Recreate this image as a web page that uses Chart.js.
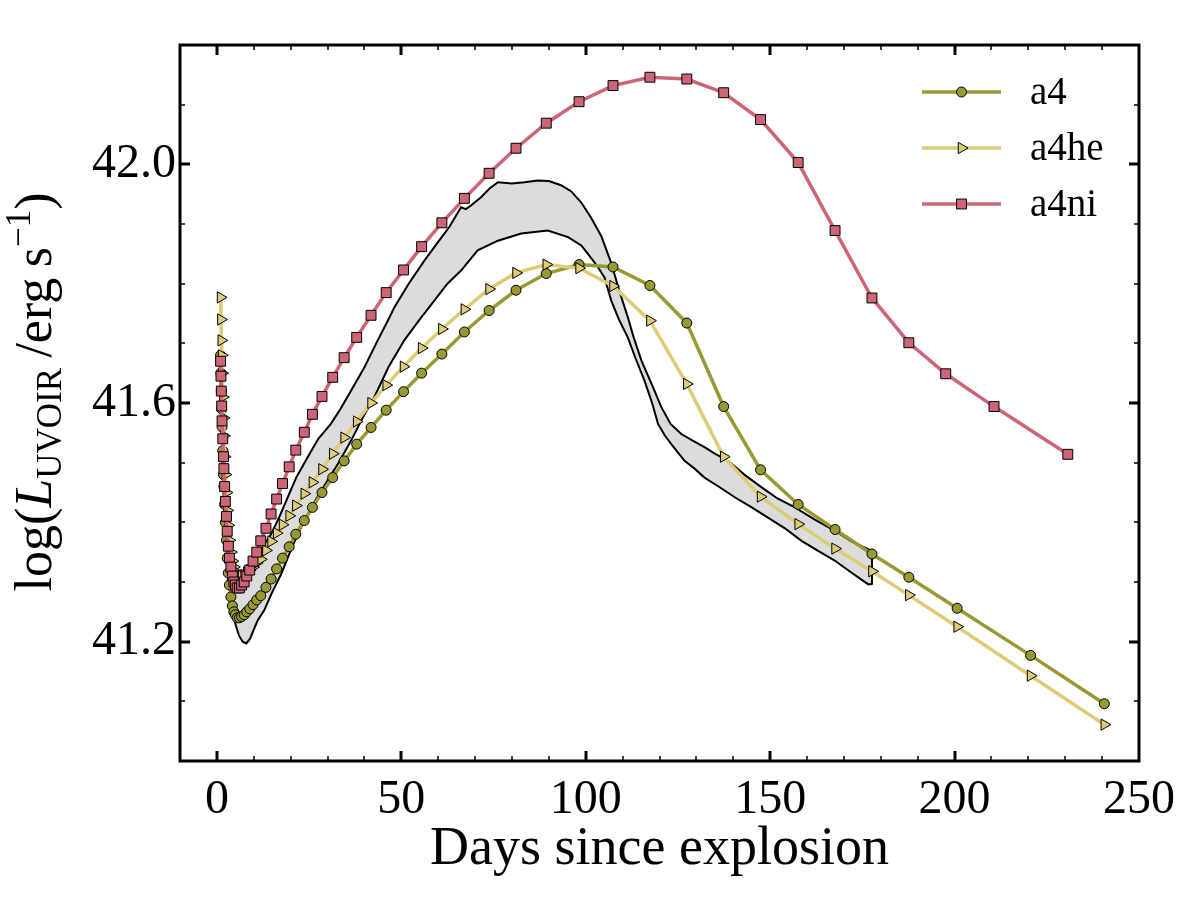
<!DOCTYPE html>
<html>
<head>
<meta charset="utf-8">
<script src="https://cdn.jsdelivr.net/npm/chart.js@4.4.1/dist/chart.umd.min.js"></script>
<style>
  html, body { margin: 0; padding: 0; background: #fff; }
  #wrap { width: 1200px; height: 900px; }
</style>
</head>
<body>
<div id="wrap"><canvas id="lumChart" width="1200" height="900"></canvas></div>
<script>
// days since explosion (models share the same output times, a4ni differs late)
const daysA4 = [1.0, 1.1, 1.2, 1.3, 1.4, 1.6, 1.8, 1.9, 2.1, 2.3, 2.6, 2.8, 3.1, 3.4, 3.8, 4.2, 4.6, 5.0, 5.5, 6.1,
  6.7, 7.4, 8.1, 8.9, 9.8, 10.8, 11.9, 13.3, 14.7, 16.2, 17.8, 19.6, 21.4, 23.7, 25.9, 28.5, 31.4, 34.5, 37.9, 41.8,
  45.9, 50.6, 55.5, 61.0, 67.1, 73.8, 81.1, 89.3, 98.2, 107.4, 117.4, 127.4, 137.4, 147.4, 157.6, 167.6, 177.6, 187.6,
  200.7, 220.6, 240.6];
const daysNi = [1.0, 1.1, 1.2, 1.3, 1.4, 1.6, 1.8, 1.9, 2.1, 2.3, 2.6, 2.8, 3.1, 3.4, 3.8, 4.2, 4.6, 5.0, 5.5, 6.1,
  6.7, 7.4, 8.1, 8.9, 9.8, 10.8, 11.9, 13.3, 14.7, 16.2, 17.8, 19.6, 21.4, 23.7, 25.9, 28.5, 31.4, 34.5, 37.9, 41.8,
  45.9, 50.6, 55.5, 61.0, 67.1, 73.8, 81.1, 89.3, 98.2, 107.4, 117.4, 127.4, 137.4, 147.4, 157.6, 167.6, 177.6, 187.6,
  197.6, 210.7, 230.7];

// log L_UVOIR
const a4 = [41.68, 41.65, 41.62, 41.59, 41.56, 41.52, 41.48, 41.46, 41.43, 41.40, 41.37, 41.34, 41.315, 41.295, 41.275,
  41.26, 41.25, 41.245, 41.24, 41.24, 41.242, 41.245, 41.25, 41.255, 41.262, 41.27,
  41.277, 41.291, 41.305, 41.322, 41.340, 41.359, 41.380, 41.403, 41.425, 41.450, 41.475, 41.503, 41.531, 41.559,
  41.588, 41.619, 41.650, 41.682, 41.719, 41.755, 41.789, 41.817, 41.832,
  41.828, 41.797, 41.734, 41.594, 41.488, 41.430, 41.388, 41.347, 41.308,
  41.256, 41.177, 41.096];
const a4he = [41.777, 41.74, 41.705, 41.68, 41.65, 41.61, 41.575, 41.545, 41.51, 41.48, 41.45, 41.42, 41.395, 41.37,
  41.35, 41.335, 41.325, 41.318, 41.313, 41.31, 41.31, 41.312, 41.316, 41.32, 41.325, 41.332,
  41.338, 41.353, 41.368, 41.382, 41.396, 41.411, 41.428, 41.448, 41.467, 41.489, 41.515, 41.542, 41.569, 41.600,
  41.630, 41.661, 41.692, 41.724, 41.757, 41.791, 41.818, 41.832, 41.826,
  41.796, 41.738, 41.632, 41.510, 41.443, 41.397, 41.356, 41.318, 41.278,
  41.225, 41.143, 41.061];
const a4ni = [41.67, 41.645, 41.62, 41.595, 41.57, 41.54, 41.51, 41.49, 41.46, 41.435, 41.41, 41.385, 41.36, 41.34,
  41.325, 41.31, 41.30, 41.295, 41.29, 41.29, 41.295, 41.30, 41.31, 41.32, 41.335, 41.35,
  41.369, 41.390, 41.414, 41.439, 41.465, 41.493, 41.521, 41.551, 41.581, 41.611, 41.643, 41.676, 41.710, 41.747,
  41.785, 41.823, 41.862, 41.902, 41.943, 41.985, 42.027, 42.069, 42.105,
  42.132, 42.146, 42.143, 42.120, 42.075, 42.003, 41.889, 41.776,
  41.701, 41.649, 41.594, 41.514];

// observed band (upper and lower edge)
const bandHiDays = [1.0, 1.5, 2.0, 2.5, 3.0, 3.5, 4.5, 5.5, 7.0, 8.0, 9.0, 10.0, 11.0, 12.5, 14.7, 17.0, 19.2, 21.5,
  24.6, 27.5, 30.9, 33.5, 36.4, 40.0, 43.6, 46.5, 48.1, 52.0, 56.3, 60.0, 63.0, 66.2, 67.5, 68.9, 71.6, 74.0, 76.2,
  80.0, 83.4, 87.0, 90.0, 93.3, 96.0, 98.8, 101.5, 104.2, 106.9, 109.0, 111.4, 113.0, 115.1, 118.0, 120.5, 123.0,
  125.9, 129.0, 132.2, 135.0, 138.6, 143.0, 147.6, 152.0, 156.7, 162.0, 167.5, 172.0, 177.6];
const bandHi = [41.64, 41.56, 41.48, 41.42, 41.38, 41.35, 41.32, 41.31, 41.305, 41.307, 41.315, 41.325, 41.34, 41.36,
  41.38, 41.41, 41.442, 41.475, 41.509, 41.54, 41.565, 41.59, 41.621, 41.66, 41.705, 41.74, 41.76, 41.80, 41.839,
  41.87, 41.895, 41.928, 41.925, 41.931, 41.945, 41.96, 41.970, 41.968, 41.970, 41.973, 41.972, 41.965, 41.955,
  41.936, 41.91, 41.88, 41.835, 41.79, 41.744, 41.71, 41.671, 41.63, 41.593, 41.565, 41.548, 41.537, 41.526, 41.515,
  41.503, 41.48, 41.459, 41.44, 41.425, 41.405, 41.386, 41.368, 41.352];
const bandLoDays = [1.0, 1.5, 2.0, 2.5, 3.0, 3.5, 4.0, 5.0, 6.0, 7.0, 8.0, 9.0, 10.0, 11.0, 12.8, 15.0, 17.4, 20.5,
  23.7, 27.0, 30.0, 33.0, 36.4, 39.5, 42.7, 46.5, 50.8, 55.0, 59.0, 62.5, 66.2, 70.7, 76.2, 82.5, 89.7, 95.2, 98.8,
  100.6, 103.3, 105.1, 106.9, 109.0, 111.4, 113.5, 115.9, 118.0, 119.6, 121.5, 123.2, 126.8, 129.5, 132.2, 136.0,
  140.4, 145.0, 149.4, 154.0, 158.5, 163.0, 167.5, 172.0, 176.6, 177.6];
const bandLo = [41.64, 41.55, 41.47, 41.40, 41.34, 41.30, 41.27, 41.23, 41.21, 41.20, 41.197, 41.205, 41.22, 41.235,
  41.252, 41.283, 41.313, 41.36, 41.403, 41.44, 41.470, 41.50, 41.537, 41.575, 41.610, 41.66, 41.705, 41.74, 41.772,
  41.80, 41.822, 41.856, 41.872, 41.884, 41.889, 41.878, 41.864, 41.850, 41.828, 41.810, 41.772, 41.74, 41.710,
  41.675, 41.638, 41.60, 41.565, 41.545, 41.531, 41.503, 41.49, 41.475, 41.46, 41.442, 41.425, 41.408, 41.39,
  41.369, 41.352, 41.336, 41.316, 41.296, 41.297];

const xTicks = [0, 50, 100, 150, 200, 250];
const yTicks = [41.2, 41.6, 42.0];
const seriesNames = ['a4', 'a4he', 'a4ni'];

const olive = '#999933';
const sand = '#DDCC77';
const rose = '#CC6677';
const serif = "'Liberation Serif', 'DejaVu Serif', serif";

const toPoints = (xs, ys) => xs.map((x, i) => ({x: x, y: ys[i]}));

// band as a closed shape: upper edge forward, lower edge back
const bandShape = toPoints(bandHiDays, bandHi).concat(toPoints(bandLoDays, bandLo).reverse());

function drawMarker(ctx, style, x, y, r, rot) {
  if (Chart.helpers && Chart.helpers.drawPoint) {
    Chart.helpers.drawPoint(ctx, {pointStyle: style, radius: r, rotation: rot || 0, borderWidth: 1}, x, y);
  }
}

const extras = {
  id: 'extras',
  afterDraw(chart) {
    const ctx = chart.ctx;
    const a = chart.chartArea;
    const xs = chart.scales.x;
    const ys = chart.scales.y;
    ctx.save();

    // inward ticks on all four sides
    ctx.strokeStyle = '#000';
    for (let d = 0; d < 250; d += 10) {
      const major = xTicks.includes(d);
      const px = Math.round(xs.getPixelForValue(d));
      const len = major ? 10 : 5;
      ctx.lineWidth = major ? 3 : 1.5;
      ctx.beginPath();
      ctx.moveTo(px, a.bottom); ctx.lineTo(px, a.bottom - len);
      ctx.moveTo(px, a.top); ctx.lineTo(px, a.top + len);
      ctx.stroke();
    }
    for (let k = 411; k <= 421; k++) {
      const v = k / 10;
      const major = yTicks.some(t => Math.abs(t - v) < 1e-6);
      const py = Math.round(ys.getPixelForValue(v));
      const len = major ? 10 : 5;
      ctx.lineWidth = major ? 3 : 1.5;
      ctx.beginPath();
      ctx.moveTo(a.left, py); ctx.lineTo(a.left + len, py);
      ctx.moveTo(a.right, py); ctx.lineTo(a.right - len, py);
      ctx.stroke();
    }

    // frame
    ctx.lineWidth = 3;
    ctx.strokeRect(a.left, a.top, a.right - a.left, a.bottom - a.top);

    // legend: line with marker in the middle
    const styles = [
      {color: olive, shape: 'circle', r: 5, rot: 0},
      {color: sand, shape: 'triangle', r: 6.5, rot: 90},
      {color: rose, shape: 'rect', r: 7, rot: 0}
    ];
    ctx.font = '39px ' + serif;
    ctx.textBaseline = 'middle';
    ctx.textAlign = 'left';
    seriesNames.forEach((name, i) => {
      const y = a.top + 47 + i * 56;
      const x0 = a.right - 217;
      const x1 = a.right - 138;
      ctx.strokeStyle = styles[i].color;
      ctx.lineWidth = 3.5;
      ctx.beginPath();
      ctx.moveTo(x0, y); ctx.lineTo(x1, y);
      ctx.stroke();
      ctx.fillStyle = styles[i].color;
      ctx.strokeStyle = '#000';
      ctx.lineWidth = 1;
      drawMarker(ctx, styles[i].shape, (x0 + x1) / 2, y, styles[i].r, styles[i].rot);
      ctx.fillStyle = '#000';
      ctx.fillText(name, a.right - 109, y + 2);
    });

    // y-axis title with subscript and superscript
    const big = 52, small = 35;
    const parts = [
      {t: 'log(', f: big + 'px ' + serif, dy: 0},
      {t: 'L', f: 'italic ' + big + 'px ' + serif, dy: 0},
      {t: 'UVOIR', f: small + 'px ' + serif, dy: 10},
      {t: '\u2009/erg\u2009s', f: big + 'px ' + serif, dy: 0},
      {t: '\u22121', f: small + 'px ' + serif, dy: -21},
      {t: ')', f: big + 'px ' + serif, dy: 0}
    ];
    let total = 0;
    parts.forEach(p => { ctx.font = p.f; p.w = ctx.measureText(p.t).width; total += p.w; });
    ctx.translate(51, (a.top + a.bottom) / 2 - 11);
    ctx.rotate(-Math.PI / 2);
    ctx.textBaseline = 'alphabetic';
    ctx.fillStyle = '#000';
    let cx = -total / 2;
    parts.forEach(p => {
      ctx.font = p.f;
      ctx.fillText(p.t, cx, p.dy);
      cx += p.w;
    });
    ctx.restore();
  }
};

const ctx = document.getElementById('lumChart').getContext('2d');

new Chart(ctx, {
  type: 'line',
  data: {
    datasets: [
      {
        label: 'band',
        data: bandShape,
        borderColor: '#000',
        borderWidth: 2,
        backgroundColor: '#dcdcdc',
        fill: 'shape',
        pointRadius: 0,
        tension: 0,
        order: 3
      },
      {
        label: seriesNames[0],
        data: toPoints(daysA4, a4),
        borderColor: olive,
        borderWidth: 3.5,
        pointStyle: 'circle',
        pointRadius: 5,
        pointBackgroundColor: olive,
        pointBorderColor: '#000',
        pointBorderWidth: 1,
        fill: false,
        tension: 0,
        order: 2
      },
      {
        label: seriesNames[1],
        data: toPoints(daysA4, a4he),
        borderColor: sand,
        borderWidth: 3.5,
        pointStyle: 'triangle',
        pointRotation: 90,
        pointRadius: 6.5,
        pointBackgroundColor: sand,
        pointBorderColor: '#000',
        pointBorderWidth: 1,
        fill: false,
        tension: 0,
        order: 1
      },
      {
        label: seriesNames[2],
        data: toPoints(daysNi, a4ni),
        borderColor: rose,
        borderWidth: 3.5,
        pointStyle: 'rect',
        pointRadius: 7,
        pointBackgroundColor: rose,
        pointBorderColor: '#000',
        pointBorderWidth: 1,
        fill: false,
        tension: 0,
        order: 0
      }
    ]
  },
  options: {
    responsive: false,
    animation: false,
    devicePixelRatio: 1,
    layout: {
      padding: {left: 0, right: 61, top: 45, bottom: 0}
    },
    plugins: {
      legend: { display: false },
      tooltip: { enabled: false }
    },
    scales: {
      x: {
        type: 'linear',
        min: -10,
        max: 250,
        afterBuildTicks: (scale) => { scale.ticks = xTicks.map(v => ({value: v})); },
        afterFit: (scale) => { scale.height = 139; },
        grid: { display: false, drawTicks: false },
        border: { display: false },
        ticks: {
          color: '#000',
          padding: 11,
          maxRotation: 0,
          font: { family: serif, size: 48 },
          callback: (v) => String(v)
        },
        title: {
          display: true,
          text: 'Days since explosion',
          color: '#000',
          padding: { top: 0, bottom: 18 },
          font: { family: serif, size: 54 }
        }
      },
      y: {
        type: 'linear',
        min: 41.0,
        max: 42.2,
        afterBuildTicks: (scale) => { scale.ticks = yTicks.map(v => ({value: v})); },
        afterFit: (scale) => { scale.width = 180; },
        grid: { display: false, drawTicks: false },
        border: { display: false },
        ticks: {
          color: '#000',
          padding: 4,
          font: { family: serif, size: 48 },
          callback: (v) => Number(v).toFixed(1)
        }
      }
    }
  },
  plugins: [extras]
});
</script>
</body>
</html>
